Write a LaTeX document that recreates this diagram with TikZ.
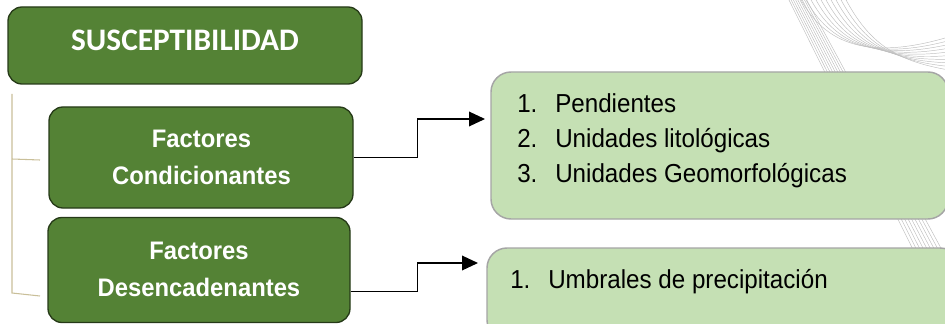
\documentclass[tikz,border=0pt]{standalone}
\usepackage{fontspec}
\setmainfont{Liberation Sans}
\newfontfamily\titlefont{Carlito}
\newfontfamily\listfont[FakeStretch=0.93]{Liberation Sans}
\newfontfamily\labelfont[FakeStretch=0.94]{Liberation Sans}
\usetikzlibrary{arrows.meta,calc}
\definecolor{darkgreen}{HTML}{548235}
\definecolor{darkedge}{HTML}{263A18}
\definecolor{lightgreen}{HTML}{C5E0B4}
\definecolor{lightedge}{HTML}{A5A5A5}
\definecolor{bracket}{HTML}{C9BF99}
\begin{document}
\begin{tikzpicture}[x=0.75pt,y=-0.75pt,
  darkbox/.style={draw=darkedge, line width=1pt, fill=darkgreen, rounded corners=10.5pt, inner sep=0pt},
  lightbox/.style={draw=lightedge, line width=1.1pt, fill=lightgreen, rounded corners=15pt, inner sep=0pt},
  titletext/.style={text=white, font=\titlefont\bfseries\fontsize{23.5}{28}\selectfont, anchor=base, inner sep=0pt},
  boxlabel/.style={text=white, font=\labelfont\bfseries\fontsize{19}{27.75}\selectfont, align=center, inner sep=0pt},
  itemtext/.style={font=\listfont\fontsize{19.5}{23}\selectfont, anchor=base west, inner sep=0pt},
  link/.style={line width=1pt, -{Triangle[length=12pt,width=11pt]}},
  trace/.style={draw=gray!50, line width=0.35pt},
  brace/.style={draw=bracket, line width=0.8pt}]

\useasboundingbox (0,0) rectangle (945,324);

% thin line pattern of the background
\begin{scope}
  \clip (0,0) rectangle (945,324);
  \foreach \k in {0,...,8}
    \draw[trace] (788+2.2*\k,-2) -- (950+4*\k,324);
  \foreach \k in {0,...,9}
    \draw[trace] (800+5*\k,-2) .. controls (825+5*\k,45) and (870+3*\k,62) .. (955,35+4*\k);
\end{scope}

% side bracket
\coordinate (b0) at (12,94);
\coordinate (b1) at (12,159);
\coordinate (b1e) at (40,160);
\coordinate (b2) at (12,293);
\coordinate (b2e) at (40,296);
\draw[brace] (b0) -- (b2) -- (b2e);
\draw[brace] (b1) -- (b1e);

% dark boxes
\node[darkbox, minimum width=265.5pt, minimum height=57.75pt] (sus) at (185,45.5) {};
\node[titletext] (sustext) at (185,50.5) {SUSCEPTIBILIDAD};

\node[darkbox, minimum width=228pt, minimum height=75.75pt] (fc) at (201,157.5) {};
\node[boxlabel] (fctext) at (201.5,157) {Factores\\Condicionantes};

\node[darkbox, minimum width=226.5pt, minimum height=78.75pt] (fd) at (199,270) {};
\node[boxlabel] (fdtext) at (199,269) {Factores\\Desencadenantes};

% light boxes with their lists
\node[lightbox, minimum width=342.75pt, minimum height=110.25pt] (l1) at (719.5,145.5) {};
\node[itemtext] (i1) at (517,113) {\makebox[28.5pt][l]{1.}Pendientes};
\node[itemtext] (i2) at (517,147.5) {\makebox[28.5pt][l]{2.}Unidades litológicas};
\node[itemtext] (i3) at (517,182) {\makebox[28.5pt][l]{3.}Unidades Geomorfológicas};

\node[lightbox, minimum width=354.75pt, minimum height=69pt] (l2) at (723.5,294) {};
\node[itemtext] (j1) at (510,288) {\makebox[28.5pt][l]{1.}Umbrales de precipitación};

% connectors
\coordinate (t1) at (485,119);
\coordinate (t2) at (478,263);
\draw[link] (fc.east) -- ++(64,0) |- (t1);
\draw[link] ($(fd.east)+(0,21.5)$) -- ++(67,0) |- (t2);
\end{tikzpicture}
\end{document}
